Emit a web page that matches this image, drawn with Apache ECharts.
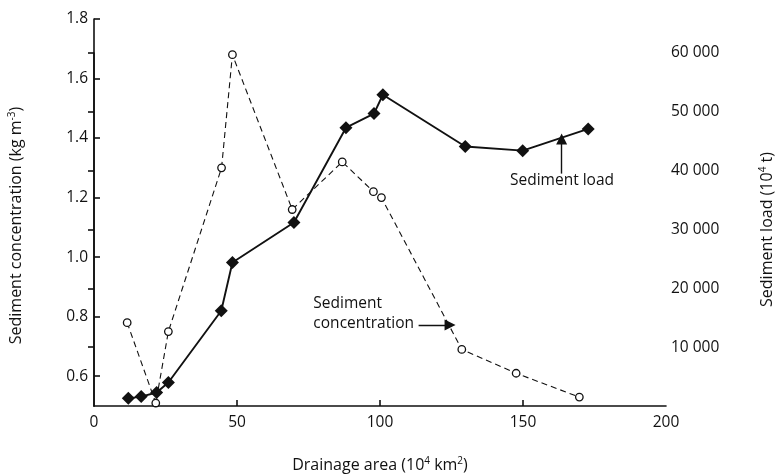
<!DOCTYPE html>
<html>
<head>
<meta charset="utf-8">
<script src="https://cdn.jsdelivr.net/npm/echarts@6/dist/echarts.min.js"></script>
<style>html,body{margin:0;padding:0;background:#fff}#c{width:779px;height:474px}</style>
</head>
<body>
<div id="c"></div>
<script>
// Data
const xConc = [11.6, 21.6, 26.0, 44.6, 48.4, 69.3, 86.8, 97.7, 100.5, 128.6, 147.6, 169.7];
const conc = [0.78, 0.51, 0.75, 1.30, 1.68, 1.16, 1.32, 1.22, 1.20, 0.69, 0.61, 0.53];
const xLoad = [12.0, 16.5, 21.9, 26.0, 44.5, 48.4, 69.9, 88.1, 97.9, 101.0, 129.8, 149.9, 172.8];
const load = [1300, 1600, 2300, 4000, 16200, 24400, 31200, 47300, 49700, 52900, 44100, 43400, 47100];
const xTicks = [0, 50, 100, 150, 200];
const concTicks = [0.6, 0.8, 1.0, 1.2, 1.4, 1.6, 1.8];
const loadTicks = [10000, 20000, 30000, 40000, 50000, 60000];

const FONT = 'Open Sans';
const INK = '#111';
const FS = 15.5;
const chart = echarts.init(document.getElementById('c'), null, {renderer: 'canvas'});

const richBase = {
  t: {fontFamily: FONT, fontSize: 16, color: INK},
  s: {fontFamily: FONT, fontSize: 10, color: INK, padding: [0, 0, 9, 0]}
};

chart.setOption({
  animation: false,
  backgroundColor: '#fff',
  grid: [
    {left: 94, right: 113, top: 19, bottom: 68, outerBoundsMode: 'none', containLabel: false},
    {left: 94, right: 113, top: 53, bottom: 68, outerBoundsMode: 'none', containLabel: false}
  ],
  xAxis: [
    {
      gridIndex: 0, type: 'value', min: 0, max: 200, interval: 50,
      axisLine: {show: true, lineStyle: {color: INK, width: 1.6}},
      axisTick: {show: true, inside: true, length: 6, lineStyle: {color: INK, width: 1.6}, customValues: [50, 100, 150]},
      axisLabel: {fontFamily: FONT, fontSize: FS, color: INK, margin: 9, customValues: xTicks},
      splitLine: {show: false},
      name: '{t|Drainage area (10}{s|4}{t| km}{s|2}{t|)}',
      nameLocation: 'middle', nameGap: 50,
      nameTextStyle: {rich: richBase}
    },
    {gridIndex: 1, type: 'value', min: 0, max: 200, show: false}
  ],
  yAxis: [
    {
      gridIndex: 0, type: 'value', min: 0.5, max: 1.8, position: 'left',
      axisLine: {show: true, lineStyle: {color: INK, width: 1.6}},
      axisTick: {show: true, inside: true, length: 6, lineStyle: {color: INK, width: 1.6}, customValues: concTicks},
      axisLabel: {fontFamily: FONT, fontSize: FS, color: INK, margin: 6, customValues: concTicks,
        formatter: v => v.toFixed(1)},
      splitLine: {show: false},
      name: '{t|Sediment concentration (kg m}{s|-3}{t|)}',
      nameLocation: 'middle', nameRotate: 90, nameGap: 68,
      nameTextStyle: {rich: richBase, padding: [0, 26, 0, 0]}
    },
    {
      gridIndex: 1, type: 'value', min: 0, max: 60000, position: 'right',
      axisLine: {show: true, lineStyle: {color: INK, width: 1.6}},
      axisTick: {show: true, inside: true, length: 6, lineStyle: {color: INK, width: 1.6}, customValues: loadTicks},
      axisLabel: {fontFamily: FONT, fontSize: FS, color: INK, margin: 5, customValues: loadTicks,
        formatter: v => String(v / 1000) + ' 000'},
      splitLine: {show: false},
      name: '{t|Sediment load (10}{s|4}{t| t)}',
      nameLocation: 'middle', nameRotate: 90, nameGap: 92,
      nameTextStyle: {rich: richBase}
    }
  ],
  series: [
    {
      name: 'Sediment concentration', type: 'line', xAxisIndex: 0, yAxisIndex: 0,
      data: xConc.map((x, i) => [x, conc[i]]),
      symbol: 'circle', symbolSize: 7.5, showSymbol: true,
      lineStyle: {color: INK, width: 1.1, type: [6, 4]},
      itemStyle: {color: '#fff', borderColor: INK, borderWidth: 1.3},
      z: 3, clip: false,
      markLine: {
        silent: true, symbol: ['none', 'triangle'], symbolSize: 11,
        label: {show: false},
        itemStyle: {color: INK},
        lineStyle: {color: INK, width: 1.4, type: 'solid'},
        data: [[{coord: [113.5, 0.772]}, {coord: [124.5, 0.772]}]]
      }
    },
    {
      name: 'Sediment load', type: 'line', xAxisIndex: 1, yAxisIndex: 1,
      data: xLoad.map((x, i) => [x, load[i]]),
      symbol: 'diamond', symbolSize: 13, showSymbol: true,
      lineStyle: {color: INK, width: 1.9},
      itemStyle: {color: INK},
      z: 4, clip: false,
      markLine: {
        silent: true, symbol: ['none', 'triangle'], symbolSize: 11,
        label: {show: false},
        itemStyle: {color: INK},
        lineStyle: {color: INK, width: 1.4, type: 'solid'},
        data: [[{coord: [163.5, 39500]}, {coord: [163.5, 45400]}]]
      }
    }
  ],
  graphic: [
    {type: 'text', left: 510, top: 173, style: {text: 'Sediment load', fontFamily: FONT, fontSize: FS, fill: INK}},
    {type: 'text', right: 779 - 414, top: 294, style: {text: 'Sediment\nconcentration', fontFamily: FONT, fontSize: FS, fill: INK, align: 'right', lineHeight: 20}}
  ]
});
</script>
</body>
</html>
